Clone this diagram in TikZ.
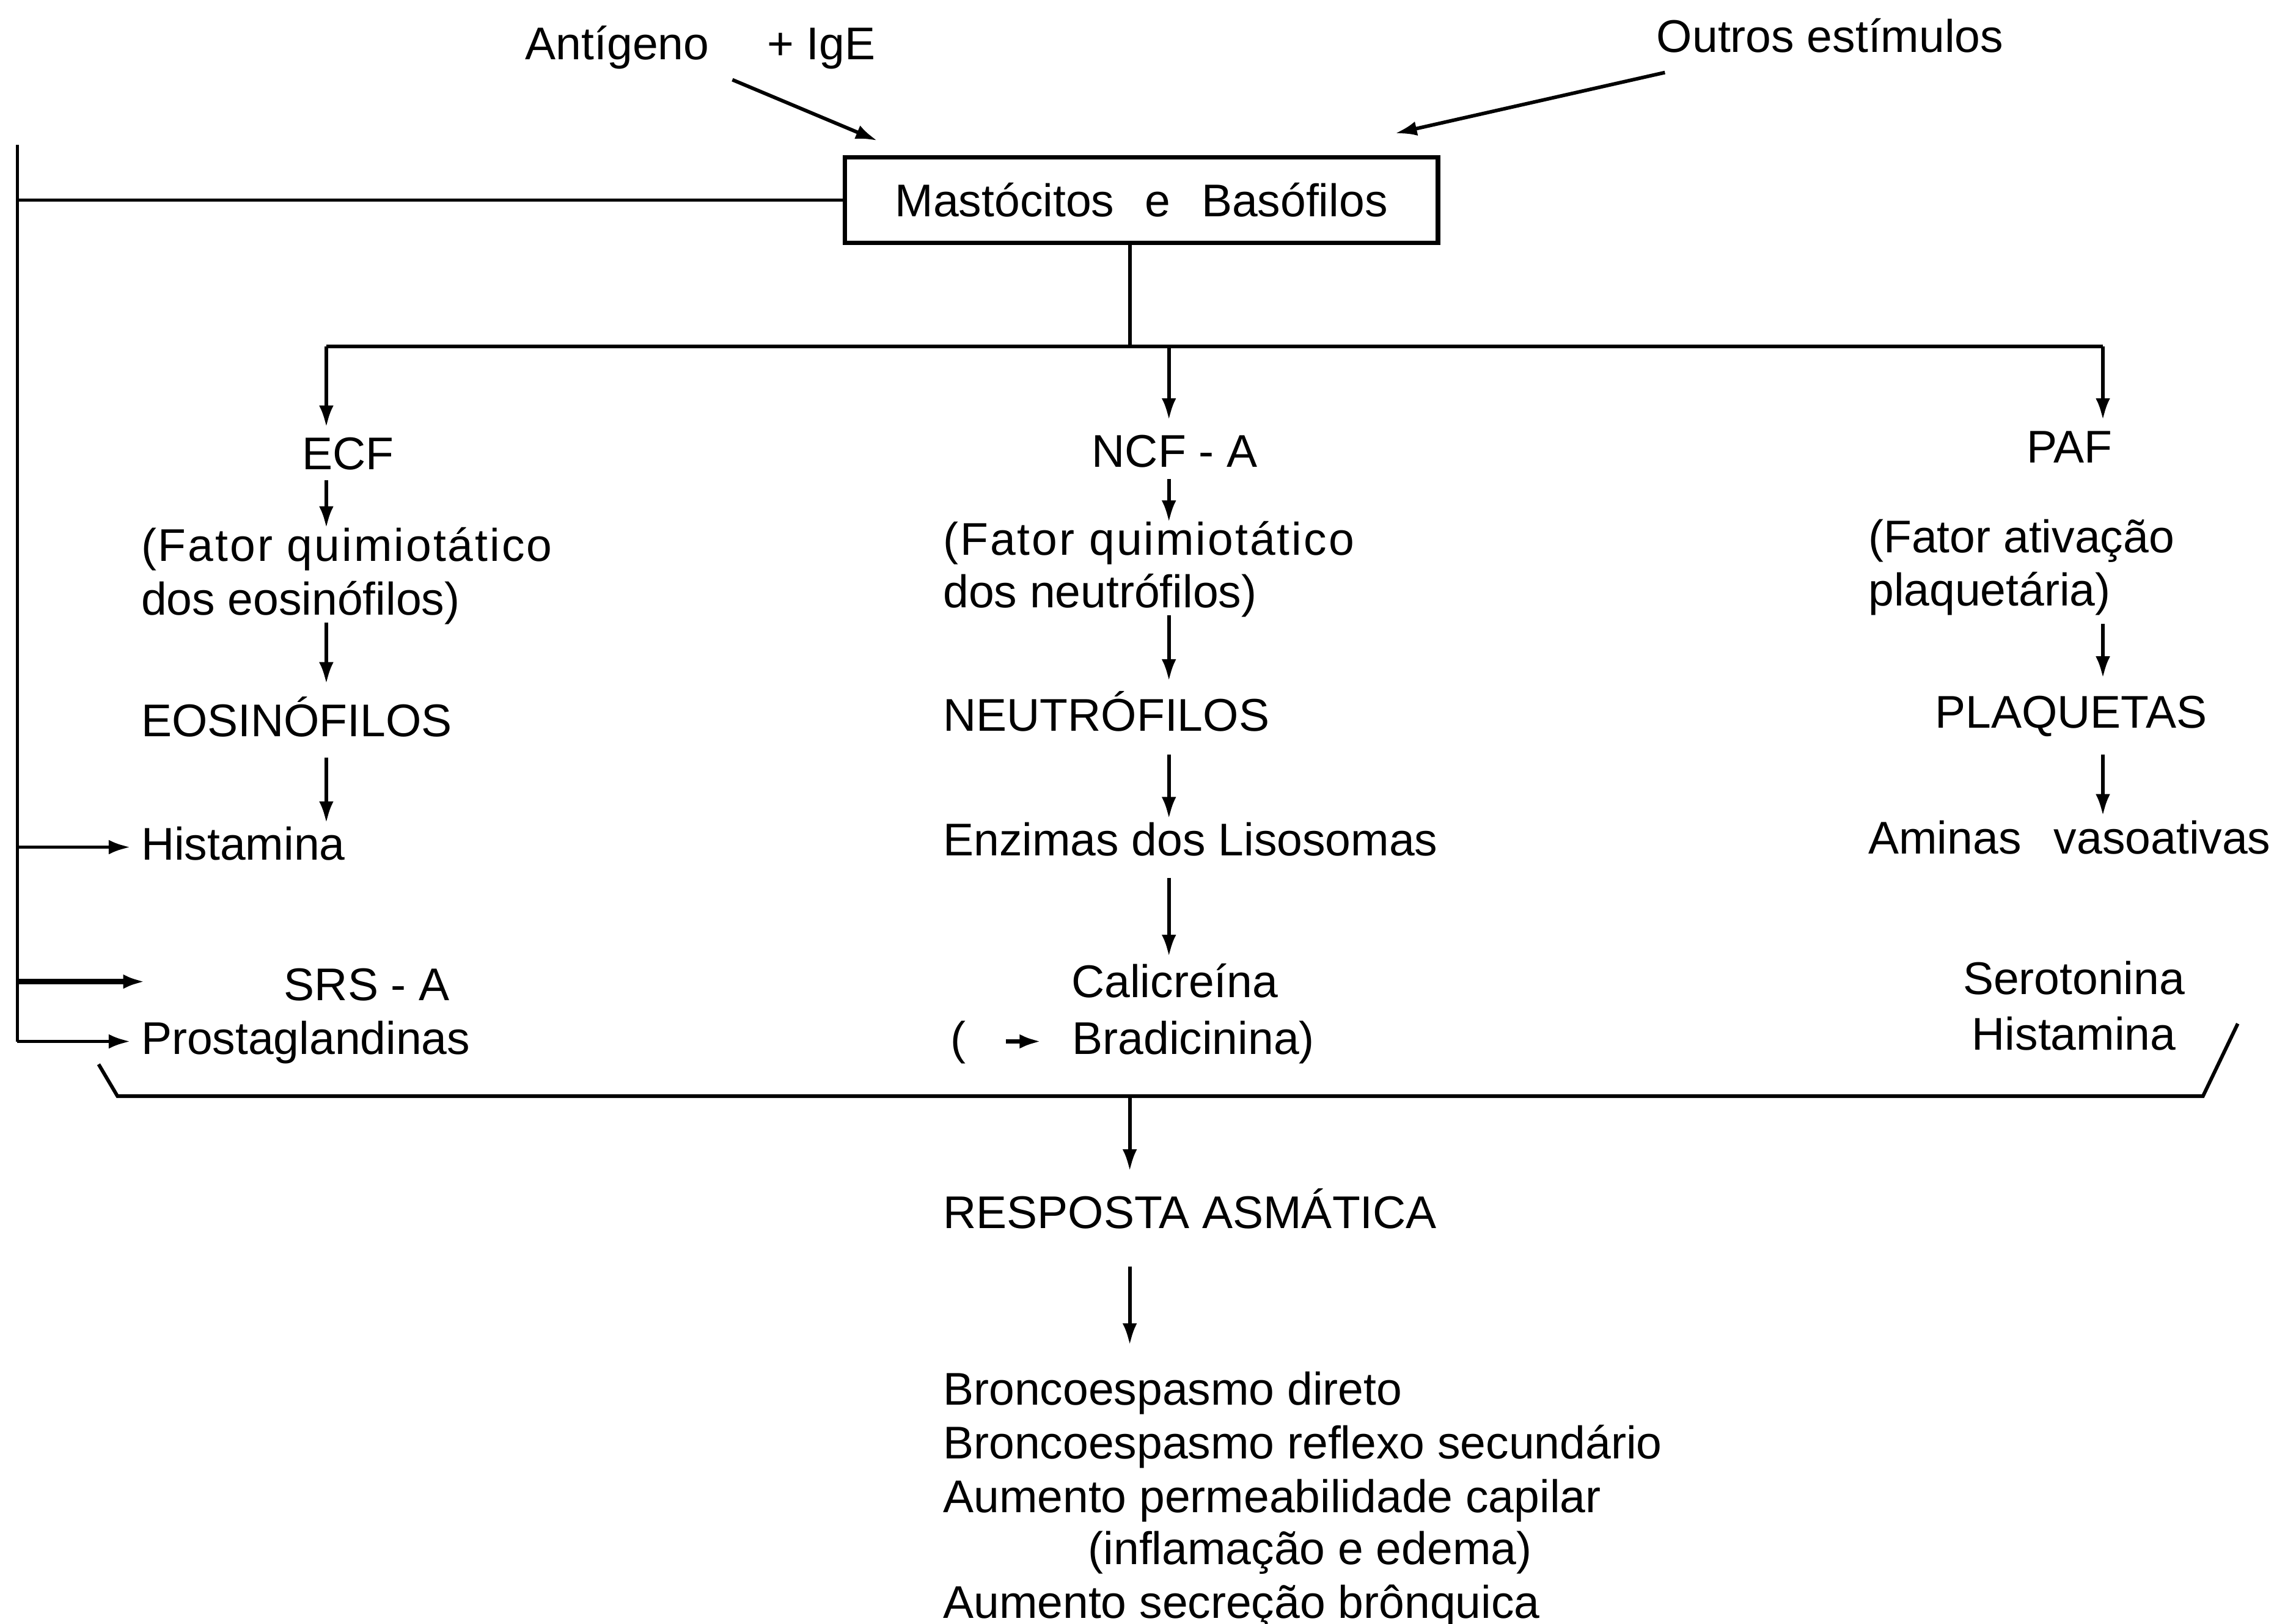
\documentclass[tikz,border=0pt]{standalone}
\usepackage{fontspec}
\setmainfont{Liberation Sans}
\usepackage{tikz}
\usetikzlibrary{arrows.meta}

\tikzset{
  txt/.style={inner sep=0pt, text height=0.45cm, text depth=0.1cm},
  flow/.style={->, line width=1.4pt},
}

\begin{document}
\begin{tikzpicture}[x=0.02cm,y=-0.02cm,>={Latex[length=0.3cm,width=0.2cm]},font=\fontsize{18}{21}\selectfont]
  \useasboundingbox (0,0) rectangle (1568,1120);

  \coordinate (c1) at (225,0);
  \coordinate (c2) at (806,0);
  \coordinate (c3) at (1450,0);
  \coordinate (bus) at (779,239);
  \coordinate (lv) at (12,100);
  \coordinate (stem) at (779,756);

  % entradas
  \node[txt,anchor=base west] (ant) at (362,41) {Antígeno\hspace{0.8cm}+ IgE};
  \node[txt,anchor=base west] (out) at (1142,36) {Outros estímulos};
  \node[draw,line width=1.8pt,minimum width=8.18cm,minimum height=1.18cm] (mast) at (787,138)
    {Mastócitos\hspace{0.25cm} e\hspace{0.25cm} Basófilos};
  \coordinate (antA) at (505,55);
  \coordinate (antB) at (605,97);
  \coordinate (outA) at (1148,50);
  \coordinate (outB) at (962,92);
  \draw[flow] (antA) -- (antB);
  \draw[flow] (outA) -- (outB);

  % coluna ECF
  \node[txt,anchor=base] (ecf) at (240,324) {ECF};
  \node[txt,anchor=base west] (fq1) at (97,387) {\addfontfeature{LetterSpace=4}(Fator quimiotático};
  \node[txt,anchor=base west] (fq2) at (97,424) {dos eosinófilos)};
  \node[txt,anchor=base west] (eos) at (97,508) {EOSINÓFILOS};
  \node[txt,anchor=base west] (hist) at (97,593) {Histamina};
  \node[txt,anchor=base] (srs) at (253,690) {SRS - A};
  \node[txt,anchor=base west] (prost) at (97,727) {Prostaglandinas};

  % coluna NCF
  \node[txt,anchor=base] (ncf) at (810,322) {NCF - A};
  \node[txt,anchor=base west] (fn1) at (650,383) {\addfontfeature{LetterSpace=4}(Fator quimiotático};
  \node[txt,anchor=base west] (fn2) at (650,419) {dos neutrófilos)};
  \node[txt,anchor=base west] (neu) at (650,504) {NEUTRÓFILOS};
  \node[txt,anchor=base west] (enz) at (650,590) {Enzimas dos Lisosomas};
  \node[txt,anchor=base] (cal) at (810,688) {Calicreína};
  \node[txt,anchor=base west] (parl) at (655,727) {(};
  \node[txt,anchor=base west] (brad) at (739,727) {Bradicinina)};

  % coluna PAF
  \node[txt,anchor=base] (paf) at (1427,319) {PAF};
  \node[txt,anchor=base west] (fp1) at (1288,381) {(Fator ativação};
  \node[txt,anchor=base west] (fp2) at (1288,418) {plaquetária)};
  \node[txt,anchor=base] (plq) at (1428,502) {PLAQUETAS};
  \node[txt,anchor=base west] (ami) at (1288,589) {Aminas\hspace{0.45cm}vasoativas};
  \node[txt,anchor=base] (ser) at (1430,686) {Serotonina};
  \node[txt,anchor=base] (his) at (1430,724) {Histamina};

  % resposta
  \node[txt,anchor=base west] (resp) at (650,847) {RESPOSTA ASMÁTICA};
  \node[txt,anchor=base west] (l1) at (650,969) {Broncoespasmo direto};
  \node[txt,anchor=base west] (l2) at (650,1006) {Broncoespasmo reflexo secundário};
  \node[txt,anchor=base west] (l3) at (650,1043) {Aumento permeabilidade capilar};
  \node[txt,anchor=base west] (l4) at (750,1079) {(inflamação e edema)};
  \node[txt,anchor=base west] (l5) at (650,1116) {Aumento secreção brônquica};

  % ligacoes
  \draw[line width=1.4pt] (mast.south -| bus) -- (bus);
  \draw[line width=1.4pt] (bus -| c1) -- (bus -| c3);
  \draw[flow,shorten >=0.13cm] (bus -| c1) -- (ecf.north -| c1);
  \draw[flow,shorten <=0.04cm] (ecf.south -| c1) -- (fq1.north -| c1);
  \draw[flow,shorten >=0.27cm] (fq2.south -| c1) -- (eos.north -| c1);
  \draw[flow,shorten <=0.18cm,shorten >=0.05cm] (eos.south -| c1) -- (hist.north -| c1);

  \draw[flow,shorten >=0.19cm] (bus -| c2) -- (ncf.north -| c2);
  \draw[flow,shorten <=0.06cm] (ncf.south -| c2) -- (fn1.north -| c2);
  \draw[flow,shorten >=0.23cm] (fn2.south -| c2) -- (neu.north -| c2);
  \draw[flow,shorten <=0.22cm,shorten >=0.05cm] (neu.south -| c2) -- (enz.north -| c2);
  \draw[flow,shorten <=0.2cm,shorten >=0.11cm] (enz.south -| c2) -- (cal.north -| c2);
  \draw[flow,line width=1.8pt,shorten <=0.55cm,shorten >=0.42cm] (parl.east) -- (brad.west);

  \draw[flow,shorten >=0.13cm] (bus -| c3) -- (paf.north -| c3);
  \draw[flow,shorten <=0.14cm,shorten >=0.23cm] (fp2.south -| c3) -- (plq.north -| c3);
  \draw[flow,shorten <=0.26cm,shorten >=0.07cm] (plq.south -| c3) -- (ami.north -| c3);

  % retorno lateral
  \draw[line width=1.4pt] (lv) -- (lv |- prost.west);
  \draw[line width=1.4pt] (lv |- mast.west) -- (mast.west);
  \draw[flow,shorten >=0.14cm] (lv |- hist.west) -- (hist.west);
  \draw[flow,line width=2pt] (lv |- 0,677) -- ++(88,0);
  \draw[flow,shorten >=0.14cm] (lv |- prost.west) -- (prost.west);

  % chave inferior
  \draw[line width=1.4pt] (68,734) -- (81,756) -- (1519,756) -- (1543,706);
  \draw[flow,shorten >=0.33cm] (stem) -- (resp.north -| stem);
  \draw[flow,shorten <=0.42cm,shorten >=0.37cm] (resp.south -| stem) -- (l1.north -| stem);
\end{tikzpicture}
\end{document}
